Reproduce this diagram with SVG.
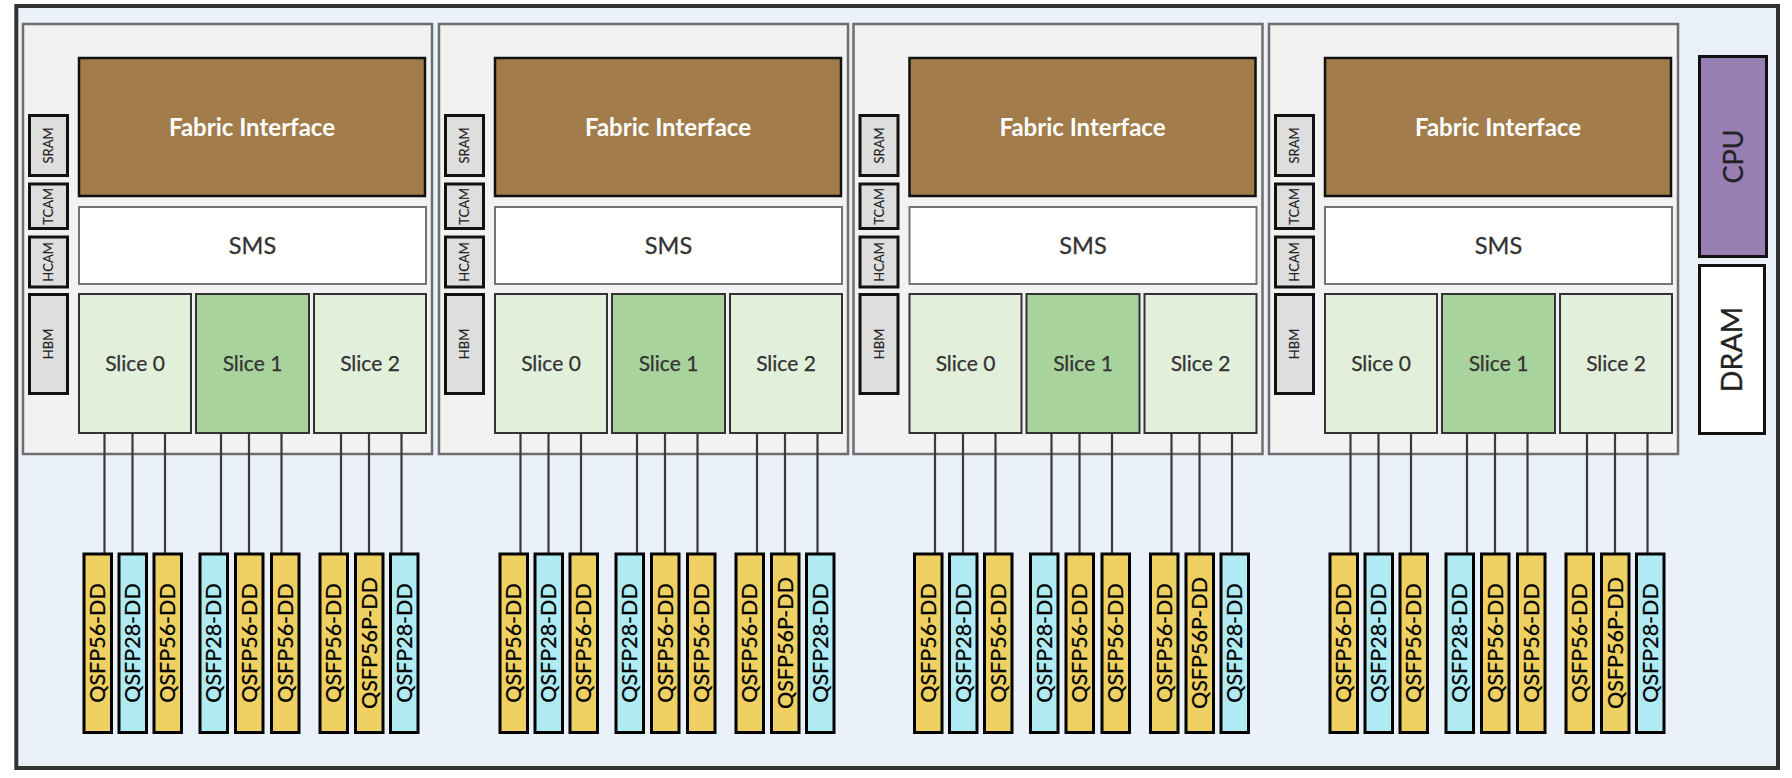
<svg xmlns="http://www.w3.org/2000/svg" width="1792" height="778" viewBox="0 0 1792 778">
<style>
.bg{fill:#eaf1f8;stroke:#333;stroke-width:4}
.chip{fill:#f2f2f2;stroke:#6e6e6e;stroke-width:2.5}
.mem{fill:#dedede;stroke:#111;stroke-width:3}
.fab{fill:#a27c4b;stroke:#111;stroke-width:2.5}
.sms{fill:#fff;stroke:#737373;stroke-width:2}
.sl{fill:#e2efdb;stroke:#333;stroke-width:2}
.sl1{fill:#a8d39c;stroke:#333;stroke-width:2}
.q56{fill:#efd062;stroke:#000;stroke-width:3}
.q28{fill:#b0ebf3;stroke:#000;stroke-width:3}
.cpu{fill:#977eb3;stroke:#111;stroke-width:3}
.dram{fill:#fff;stroke:#111;stroke-width:3}
.conn line{stroke:#3a3a3a;stroke-width:2.2}
text{font-family:Lato,"Liberation Sans",sans-serif;text-anchor:middle}
.memt{font-size:13px;fill:#222;stroke:#222;stroke-width:0.15}
.fabt{font-size:24px;font-weight:bold;fill:#fff}
.smst{font-size:23.5px;fill:#333;stroke:#333;stroke-width:0.3}
.slt{font-size:21px;fill:#333;stroke:#333;stroke-width:0.25}
.qt{font-size:21.5px;fill:#000;stroke:#000;stroke-width:0.25}
.bigt{font-size:27px;fill:#222;stroke:#222;stroke-width:0.3}
</style>
<rect class="bg" x="16.3" y="6" width="1761.7" height="762"/>

<g id="chip1" transform="translate(23,0)">
<rect class="chip" x="0" y="24" width="409" height="430"/>
<g id="chip1-sram"><rect class="mem" x="6.5" y="115.5" width="38" height="60"/><text class="memt" transform="translate(25.5,145.5) rotate(-90)" y="4.7">SRAM</text></g>
<g id="chip1-tcam"><rect class="mem" x="6.5" y="184" width="38" height="44.5"/><text class="memt" transform="translate(25.5,206.3) rotate(-90)" y="4.7">TCAM</text></g>
<g id="chip1-hcam"><rect class="mem" x="6.5" y="237" width="38" height="50"/><text class="memt" transform="translate(25.5,262) rotate(-90)" y="4.7">HCAM</text></g>
<g id="chip1-hbm"><rect class="mem" x="6.5" y="294.5" width="38" height="99"/><text class="memt" transform="translate(25.5,344) rotate(-90)" y="4.7">HBM</text></g>
<g id="chip1-fabric"><rect class="fab" x="56" y="58" width="346" height="138"/><text class="fabt" x="229" y="135.5">Fabric Interface</text></g>
<g id="chip1-sms"><rect class="sms" x="56" y="207" width="347" height="77"/><text class="smst" x="229.5" y="254">SMS</text></g>
<g id="chip1-slice0"><rect class="sl" x="56" y="294" width="112" height="139"/><text class="slt" x="112" y="371">Slice 0</text></g>
<g id="chip1-slice1"><rect class="sl1" x="173" y="294" width="113" height="139"/><text class="slt" x="229.5" y="371">Slice 1</text></g>
<g id="chip1-slice2"><rect class="sl" x="291" y="294" width="112" height="139"/><text class="slt" x="347" y="371">Slice 2</text></g>
</g>

<g id="chip2" transform="translate(439,0)">
<rect class="chip" x="0" y="24" width="409" height="430"/>
<g id="chip2-sram"><rect class="mem" x="6.5" y="115.5" width="38" height="60"/><text class="memt" transform="translate(25.5,145.5) rotate(-90)" y="4.7">SRAM</text></g>
<g id="chip2-tcam"><rect class="mem" x="6.5" y="184" width="38" height="44.5"/><text class="memt" transform="translate(25.5,206.3) rotate(-90)" y="4.7">TCAM</text></g>
<g id="chip2-hcam"><rect class="mem" x="6.5" y="237" width="38" height="50"/><text class="memt" transform="translate(25.5,262) rotate(-90)" y="4.7">HCAM</text></g>
<g id="chip2-hbm"><rect class="mem" x="6.5" y="294.5" width="38" height="99"/><text class="memt" transform="translate(25.5,344) rotate(-90)" y="4.7">HBM</text></g>
<g id="chip2-fabric"><rect class="fab" x="56" y="58" width="346" height="138"/><text class="fabt" x="229" y="135.5">Fabric Interface</text></g>
<g id="chip2-sms"><rect class="sms" x="56" y="207" width="347" height="77"/><text class="smst" x="229.5" y="254">SMS</text></g>
<g id="chip2-slice0"><rect class="sl" x="56" y="294" width="112" height="139"/><text class="slt" x="112" y="371">Slice 0</text></g>
<g id="chip2-slice1"><rect class="sl1" x="173" y="294" width="113" height="139"/><text class="slt" x="229.5" y="371">Slice 1</text></g>
<g id="chip2-slice2"><rect class="sl" x="291" y="294" width="112" height="139"/><text class="slt" x="347" y="371">Slice 2</text></g>
</g>

<g id="chip3" transform="translate(853.5,0)">
<rect class="chip" x="0" y="24" width="409" height="430"/>
<g id="chip3-sram"><rect class="mem" x="6.5" y="115.5" width="38" height="60"/><text class="memt" transform="translate(25.5,145.5) rotate(-90)" y="4.7">SRAM</text></g>
<g id="chip3-tcam"><rect class="mem" x="6.5" y="184" width="38" height="44.5"/><text class="memt" transform="translate(25.5,206.3) rotate(-90)" y="4.7">TCAM</text></g>
<g id="chip3-hcam"><rect class="mem" x="6.5" y="237" width="38" height="50"/><text class="memt" transform="translate(25.5,262) rotate(-90)" y="4.7">HCAM</text></g>
<g id="chip3-hbm"><rect class="mem" x="6.5" y="294.5" width="38" height="99"/><text class="memt" transform="translate(25.5,344) rotate(-90)" y="4.7">HBM</text></g>
<g id="chip3-fabric"><rect class="fab" x="56" y="58" width="346" height="138"/><text class="fabt" x="229" y="135.5">Fabric Interface</text></g>
<g id="chip3-sms"><rect class="sms" x="56" y="207" width="347" height="77"/><text class="smst" x="229.5" y="254">SMS</text></g>
<g id="chip3-slice0"><rect class="sl" x="56" y="294" width="112" height="139"/><text class="slt" x="112" y="371">Slice 0</text></g>
<g id="chip3-slice1"><rect class="sl1" x="173" y="294" width="113" height="139"/><text class="slt" x="229.5" y="371">Slice 1</text></g>
<g id="chip3-slice2"><rect class="sl" x="291" y="294" width="112" height="139"/><text class="slt" x="347" y="371">Slice 2</text></g>
</g>

<g id="chip4" transform="translate(1269,0)">
<rect class="chip" x="0" y="24" width="409" height="430"/>
<g id="chip4-sram"><rect class="mem" x="6.5" y="115.5" width="38" height="60"/><text class="memt" transform="translate(25.5,145.5) rotate(-90)" y="4.7">SRAM</text></g>
<g id="chip4-tcam"><rect class="mem" x="6.5" y="184" width="38" height="44.5"/><text class="memt" transform="translate(25.5,206.3) rotate(-90)" y="4.7">TCAM</text></g>
<g id="chip4-hcam"><rect class="mem" x="6.5" y="237" width="38" height="50"/><text class="memt" transform="translate(25.5,262) rotate(-90)" y="4.7">HCAM</text></g>
<g id="chip4-hbm"><rect class="mem" x="6.5" y="294.5" width="38" height="99"/><text class="memt" transform="translate(25.5,344) rotate(-90)" y="4.7">HBM</text></g>
<g id="chip4-fabric"><rect class="fab" x="56" y="58" width="346" height="138"/><text class="fabt" x="229" y="135.5">Fabric Interface</text></g>
<g id="chip4-sms"><rect class="sms" x="56" y="207" width="347" height="77"/><text class="smst" x="229.5" y="254">SMS</text></g>
<g id="chip4-slice0"><rect class="sl" x="56" y="294" width="112" height="139"/><text class="slt" x="112" y="371">Slice 0</text></g>
<g id="chip4-slice1"><rect class="sl1" x="173" y="294" width="113" height="139"/><text class="slt" x="229.5" y="371">Slice 1</text></g>
<g id="chip4-slice2"><rect class="sl" x="291" y="294" width="112" height="139"/><text class="slt" x="347" y="371">Slice 2</text></g>
</g>

<g id="cpu"><rect class="cpu" x="1699.5" y="56.5" width="67" height="200"/><text class="bigt" transform="translate(1733,156.5) rotate(-90)" y="9.5">CPU</text></g>
<g id="dram"><rect class="dram" x="1699.5" y="265.5" width="65" height="168"/><text class="bigt" transform="translate(1732,349.5) rotate(-90)" y="10" style="font-size:28.5px">DRAM</text></g>

<g id="connectors" class="conn">
<line x1="104.5" y1="434" x2="104.5" y2="553"/><line x1="132.5" y1="434" x2="132.5" y2="553"/><line x1="165" y1="434" x2="165" y2="553"/>
<line x1="221" y1="434" x2="221" y2="553"/><line x1="249" y1="434" x2="249" y2="553"/><line x1="281.5" y1="434" x2="281.5" y2="553"/>
<line x1="341" y1="434" x2="341" y2="553"/><line x1="369" y1="434" x2="369" y2="553"/><line x1="401.5" y1="434" x2="401.5" y2="553"/>
<line x1="520.5" y1="434" x2="520.5" y2="553"/><line x1="548.5" y1="434" x2="548.5" y2="553"/><line x1="581" y1="434" x2="581" y2="553"/>
<line x1="637" y1="434" x2="637" y2="553"/><line x1="665" y1="434" x2="665" y2="553"/><line x1="697.5" y1="434" x2="697.5" y2="553"/>
<line x1="757" y1="434" x2="757" y2="553"/><line x1="785" y1="434" x2="785" y2="553"/><line x1="817.5" y1="434" x2="817.5" y2="553"/>
<line x1="935" y1="434" x2="935" y2="553"/><line x1="963" y1="434" x2="963" y2="553"/><line x1="995.5" y1="434" x2="995.5" y2="553"/>
<line x1="1051.5" y1="434" x2="1051.5" y2="553"/><line x1="1079.5" y1="434" x2="1079.5" y2="553"/><line x1="1112" y1="434" x2="1112" y2="553"/>
<line x1="1171.5" y1="434" x2="1171.5" y2="553"/><line x1="1199.5" y1="434" x2="1199.5" y2="553"/><line x1="1232" y1="434" x2="1232" y2="553"/>
<line x1="1350.5" y1="434" x2="1350.5" y2="553"/><line x1="1378.5" y1="434" x2="1378.5" y2="553"/><line x1="1411" y1="434" x2="1411" y2="553"/>
<line x1="1467" y1="434" x2="1467" y2="553"/><line x1="1495" y1="434" x2="1495" y2="553"/><line x1="1527.5" y1="434" x2="1527.5" y2="553"/>
<line x1="1587" y1="434" x2="1587" y2="553"/><line x1="1615" y1="434" x2="1615" y2="553"/><line x1="1647.5" y1="434" x2="1647.5" y2="553"/>
</g>

<g id="ports1" transform="translate(23,0)">
<g id="p1-1"><rect class="q56" x="61" y="554" width="27.5" height="178.5"/><text class="qt" transform="translate(74.75,643) rotate(-90)" y="7.7">QSFP56-DD</text></g>
<g id="p1-2"><rect class="q28" x="96" y="554" width="27.5" height="178.5"/><text class="qt" transform="translate(109.75,643) rotate(-90)" y="7.7">QSFP28-DD</text></g>
<g id="p1-3"><rect class="q56" x="131" y="554" width="27.5" height="178.5"/><text class="qt" transform="translate(144.75,643) rotate(-90)" y="7.7">QSFP56-DD</text></g>
<g id="p1-4"><rect class="q28" x="177" y="554" width="27.5" height="178.5"/><text class="qt" transform="translate(190.75,643) rotate(-90)" y="7.7">QSFP28-DD</text></g>
<g id="p1-5"><rect class="q56" x="212.5" y="554" width="27.5" height="178.5"/><text class="qt" transform="translate(226.25,643) rotate(-90)" y="7.7">QSFP56-DD</text></g>
<g id="p1-6"><rect class="q56" x="248.5" y="554" width="27.5" height="178.5"/><text class="qt" transform="translate(262.25,643) rotate(-90)" y="7.7">QSFP56-DD</text></g>
<g id="p1-7"><rect class="q56" x="297" y="554" width="27.5" height="178.5"/><text class="qt" transform="translate(310.75,643) rotate(-90)" y="7.7">QSFP56-DD</text></g>
<g id="p1-8"><rect class="q56" x="332.5" y="554" width="27.5" height="178.5"/><text class="qt" transform="translate(346.25,643) rotate(-90)" y="7.7">QSFP56P-DD</text></g>
<g id="p1-9"><rect class="q28" x="367.5" y="554" width="27.5" height="178.5"/><text class="qt" transform="translate(381.25,643) rotate(-90)" y="7.7">QSFP28-DD</text></g>
</g>

<g id="ports2" transform="translate(439,0)">
<g id="p2-1"><rect class="q56" x="61" y="554" width="27.5" height="178.5"/><text class="qt" transform="translate(74.75,643) rotate(-90)" y="7.7">QSFP56-DD</text></g>
<g id="p2-2"><rect class="q28" x="96" y="554" width="27.5" height="178.5"/><text class="qt" transform="translate(109.75,643) rotate(-90)" y="7.7">QSFP28-DD</text></g>
<g id="p2-3"><rect class="q56" x="131" y="554" width="27.5" height="178.5"/><text class="qt" transform="translate(144.75,643) rotate(-90)" y="7.7">QSFP56-DD</text></g>
<g id="p2-4"><rect class="q28" x="177" y="554" width="27.5" height="178.5"/><text class="qt" transform="translate(190.75,643) rotate(-90)" y="7.7">QSFP28-DD</text></g>
<g id="p2-5"><rect class="q56" x="212.5" y="554" width="27.5" height="178.5"/><text class="qt" transform="translate(226.25,643) rotate(-90)" y="7.7">QSFP56-DD</text></g>
<g id="p2-6"><rect class="q56" x="248.5" y="554" width="27.5" height="178.5"/><text class="qt" transform="translate(262.25,643) rotate(-90)" y="7.7">QSFP56-DD</text></g>
<g id="p2-7"><rect class="q56" x="297" y="554" width="27.5" height="178.5"/><text class="qt" transform="translate(310.75,643) rotate(-90)" y="7.7">QSFP56-DD</text></g>
<g id="p2-8"><rect class="q56" x="332.5" y="554" width="27.5" height="178.5"/><text class="qt" transform="translate(346.25,643) rotate(-90)" y="7.7">QSFP56P-DD</text></g>
<g id="p2-9"><rect class="q28" x="367.5" y="554" width="27.5" height="178.5"/><text class="qt" transform="translate(381.25,643) rotate(-90)" y="7.7">QSFP28-DD</text></g>
</g>

<g id="ports3" transform="translate(853.5,0)">
<g id="p3-1"><rect class="q56" x="61" y="554" width="27.5" height="178.5"/><text class="qt" transform="translate(74.75,643) rotate(-90)" y="7.7">QSFP56-DD</text></g>
<g id="p3-2"><rect class="q28" x="96" y="554" width="27.5" height="178.5"/><text class="qt" transform="translate(109.75,643) rotate(-90)" y="7.7">QSFP28-DD</text></g>
<g id="p3-3"><rect class="q56" x="131" y="554" width="27.5" height="178.5"/><text class="qt" transform="translate(144.75,643) rotate(-90)" y="7.7">QSFP56-DD</text></g>
<g id="p3-4"><rect class="q28" x="177" y="554" width="27.5" height="178.5"/><text class="qt" transform="translate(190.75,643) rotate(-90)" y="7.7">QSFP28-DD</text></g>
<g id="p3-5"><rect class="q56" x="212.5" y="554" width="27.5" height="178.5"/><text class="qt" transform="translate(226.25,643) rotate(-90)" y="7.7">QSFP56-DD</text></g>
<g id="p3-6"><rect class="q56" x="248.5" y="554" width="27.5" height="178.5"/><text class="qt" transform="translate(262.25,643) rotate(-90)" y="7.7">QSFP56-DD</text></g>
<g id="p3-7"><rect class="q56" x="297" y="554" width="27.5" height="178.5"/><text class="qt" transform="translate(310.75,643) rotate(-90)" y="7.7">QSFP56-DD</text></g>
<g id="p3-8"><rect class="q56" x="332.5" y="554" width="27.5" height="178.5"/><text class="qt" transform="translate(346.25,643) rotate(-90)" y="7.7">QSFP56P-DD</text></g>
<g id="p3-9"><rect class="q28" x="367.5" y="554" width="27.5" height="178.5"/><text class="qt" transform="translate(381.25,643) rotate(-90)" y="7.7">QSFP28-DD</text></g>
</g>

<g id="ports4" transform="translate(1269,0)">
<g id="p4-1"><rect class="q56" x="61" y="554" width="27.5" height="178.5"/><text class="qt" transform="translate(74.75,643) rotate(-90)" y="7.7">QSFP56-DD</text></g>
<g id="p4-2"><rect class="q28" x="96" y="554" width="27.5" height="178.5"/><text class="qt" transform="translate(109.75,643) rotate(-90)" y="7.7">QSFP28-DD</text></g>
<g id="p4-3"><rect class="q56" x="131" y="554" width="27.5" height="178.5"/><text class="qt" transform="translate(144.75,643) rotate(-90)" y="7.7">QSFP56-DD</text></g>
<g id="p4-4"><rect class="q28" x="177" y="554" width="27.5" height="178.5"/><text class="qt" transform="translate(190.75,643) rotate(-90)" y="7.7">QSFP28-DD</text></g>
<g id="p4-5"><rect class="q56" x="212.5" y="554" width="27.5" height="178.5"/><text class="qt" transform="translate(226.25,643) rotate(-90)" y="7.7">QSFP56-DD</text></g>
<g id="p4-6"><rect class="q56" x="248.5" y="554" width="27.5" height="178.5"/><text class="qt" transform="translate(262.25,643) rotate(-90)" y="7.7">QSFP56-DD</text></g>
<g id="p4-7"><rect class="q56" x="297" y="554" width="27.5" height="178.5"/><text class="qt" transform="translate(310.75,643) rotate(-90)" y="7.7">QSFP56-DD</text></g>
<g id="p4-8"><rect class="q56" x="332.5" y="554" width="27.5" height="178.5"/><text class="qt" transform="translate(346.25,643) rotate(-90)" y="7.7">QSFP56P-DD</text></g>
<g id="p4-9"><rect class="q28" x="367.5" y="554" width="27.5" height="178.5"/><text class="qt" transform="translate(381.25,643) rotate(-90)" y="7.7">QSFP28-DD</text></g>
</g>
</svg>
